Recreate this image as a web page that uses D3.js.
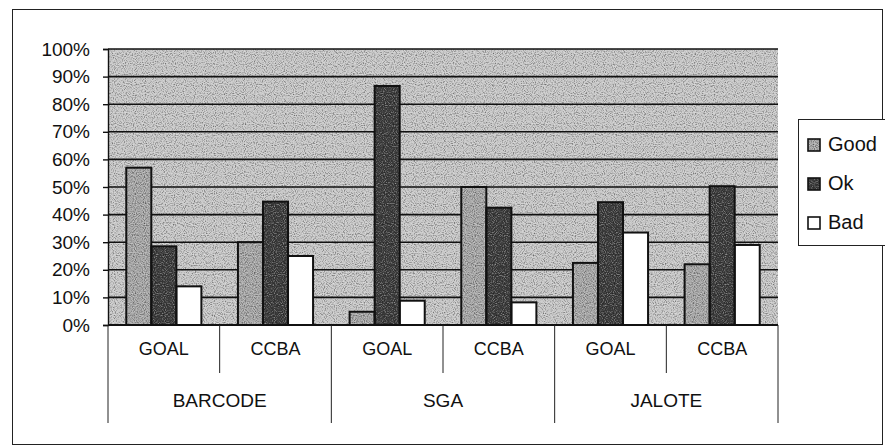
<!DOCTYPE html>
<html>
<head>
<meta charset="utf-8">
<script src="https://cdn.jsdelivr.net/npm/d3@7"></script>
<style>
  html, body { margin: 0; padding: 0; background: #fff; }
  svg { display: block; }
  text { font-family: "Liberation Sans", Arial, sans-serif; fill: #111; }
</style>
</head>
<body>
<svg id="chart" width="885" height="447"></svg>
<script>
// Survey outcome shares per tool and method
const groups = ["BARCODE", "SGA", "JALOTE"];
const methods = ["GOAL", "CCBA"];
const series = ["Good", "Ok", "Bad"];
const good = [57, 30, 4.8, 50, 22.5, 22];
const ok = [28.5, 44.7, 86.6, 42.5, 44.5, 50.3];
const bad = [14, 25, 8.8, 8.2, 33.5, 29];
const tickValues = [0, 10, 20, 30, 40, 50, 60, 70, 80, 90, 100];
const tickLabels = ["0%", "10%", "20%", "30%", "40%", "50%", "60%", "70%", "80%", "90%", "100%"];

const seriesValues = { Good: good, Ok: ok, Bad: bad };
const fills = { Good: "#a6a6a6", Ok: "#3c3c3c", Bad: "#ffffff" };

const slots = [];
groups.forEach(g => methods.forEach(m => slots.push(g + "|" + m)));

const svg = d3.select("#chart");
const plot = { left: 108, right: 778, top: 49, bottom: 325 };

// speckle filter: equal amounts of dark and light dots, so the mean tone stays put
const defs = svg.append("defs");
const f = defs.append("filter").attr("id", "grain")
  .attr("x", 0).attr("y", 0).attr("width", 1).attr("height", 1)
  .attr("color-interpolation-filters", "sRGB");
f.append("feTurbulence").attr("type", "fractalNoise").attr("baseFrequency", 0.9)
  .attr("numOctaves", 1).attr("seed", 7).attr("result", "noise");
f.append("feColorMatrix").attr("in", "noise").attr("type", "matrix")
  .attr("values", "0 0 0 0 0  0 0 0 0 0  0 0 0 0 0  1.4 0 0 0 -0.7").attr("result", "dark");
f.append("feColorMatrix").attr("in", "noise").attr("type", "matrix")
  .attr("values", "0 0 0 0 1  0 0 0 0 1  0 0 0 0 1  -1.4 0 0 0 0.7").attr("result", "light");
const mg = f.append("feMerge").attr("result", "merged");
mg.append("feMergeNode").attr("in", "SourceGraphic");
mg.append("feMergeNode").attr("in", "dark");
mg.append("feMergeNode").attr("in", "light");
f.append("feComposite").attr("in", "merged").attr("in2", "SourceGraphic").attr("operator", "in");

// outer chart frame
svg.append("rect").attr("x", 12.5).attr("y", 9.5).attr("width", 870).attr("height", 435)
  .attr("fill", "#fff").attr("stroke", "#222").attr("stroke-width", 1);

const y = d3.scaleLinear().domain([0, 100]).range([plot.bottom, plot.top]);
const x0 = d3.scaleBand().domain(slots).range([plot.left, plot.right]).padding(0);
const x1 = d3.scaleBand().domain(series).range([0, x0.bandwidth()]).paddingInner(0).paddingOuter(0.73);
const xg = d3.scaleBand().domain(groups).range([plot.left, plot.right]).padding(0);

// plot background
svg.append("rect").attr("x", plot.left).attr("y", plot.top)
  .attr("width", plot.right - plot.left).attr("height", plot.bottom - plot.top)
  .attr("fill", "#c6c6c6").attr("filter", "url(#grain)");

// gridlines
svg.append("g").selectAll("line").data(tickValues.filter(v => v > 0)).join("line")
  .attr("x1", plot.left).attr("x2", plot.right)
  .attr("y1", d => y(d)).attr("y2", d => y(d))
  .attr("stroke", "#111").attr("stroke-width", 1.6);

// y axis
const yAxis = d3.axisLeft(y).tickValues(tickValues)
  .tickFormat((d, i) => tickLabels[i]).tickSize(5).tickPadding(13);
const ya = svg.append("g").attr("transform", `translate(${plot.left},0)`).call(yAxis);
ya.select(".domain").attr("stroke", "#111").attr("stroke-width", 1.4);
ya.selectAll(".tick line").attr("stroke", "#111").attr("stroke-width", 1.4);
ya.selectAll(".tick text").attr("font-size", 19).attr("fill", "#111")
  .attr("font-family", "'Liberation Sans', Arial, sans-serif");

// bars
const barData = [];
slots.forEach((s, i) => series.forEach(k => barData.push({ slot: s, key: k, value: seriesValues[k][i] })));
const bars = svg.append("g");
bars.selectAll("rect.fill").data(barData).join("rect").attr("class", "fill")
  .attr("x", d => x0(d.slot) + x1(d.key))
  .attr("y", d => y(d.value))
  .attr("width", x1.bandwidth())
  .attr("height", d => y(0) - y(d.value))
  .attr("fill", d => fills[d.key])
  .attr("filter", d => d.key === "Bad" ? null : "url(#grain)");
bars.selectAll("rect.edge").data(barData).join("rect").attr("class", "edge")
  .attr("x", d => x0(d.slot) + x1(d.key))
  .attr("y", d => y(d.value))
  .attr("width", x1.bandwidth())
  .attr("height", d => y(0) - y(d.value))
  .attr("fill", "none")
  .attr("stroke", "#111").attr("stroke-width", 2);

// category table below the plot
const tbl = svg.append("g");
tbl.append("line").attr("x1", plot.left).attr("x2", plot.right)
  .attr("y1", plot.bottom).attr("y2", plot.bottom).attr("stroke", "#111").attr("stroke-width", 2);
// dividers between methods (short) and between tools (full height)
slots.forEach((s, i) => {
  if (i % 2 === 1) {
    tbl.append("line").attr("x1", x0(s)).attr("x2", x0(s))
      .attr("y1", plot.bottom).attr("y2", 373).attr("stroke", "#222").attr("stroke-width", 1);
  }
});
groups.forEach(g => {
  tbl.append("line").attr("x1", xg(g)).attr("x2", xg(g))
    .attr("y1", plot.bottom).attr("y2", 423).attr("stroke", "#222").attr("stroke-width", 1);
});
tbl.append("line").attr("x1", plot.right).attr("x2", plot.right)
  .attr("y1", plot.bottom).attr("y2", 423).attr("stroke", "#222").attr("stroke-width", 1);

tbl.selectAll("text.m").data(slots).join("text").attr("class", "m")
  .attr("x", d => x0(d) + x0.bandwidth() / 2).attr("y", 349)
  .attr("text-anchor", "middle").attr("dominant-baseline", "central")
  .attr("font-size", 18).text(d => d.split("|")[1]);
tbl.selectAll("text.g").data(groups).join("text").attr("class", "g")
  .attr("x", d => xg(d) + xg.bandwidth() / 2).attr("y", 400)
  .attr("text-anchor", "middle").attr("dominant-baseline", "central")
  .attr("font-size", 19).text(d => d);

// legend
const lg = svg.append("g");
lg.append("rect").attr("x", 798.5).attr("y", 119.5).attr("width", 90).attr("height", 126)
  .attr("fill", "#fff").attr("stroke", "#222").attr("stroke-width", 1);
const ly = d3.scalePoint().domain(series).range([144, 222]);
series.forEach(k => {
  lg.append("rect").attr("x", 808).attr("y", ly(k) - 5).attr("width", 12).attr("height", 12)
    .attr("fill", fills[k]).attr("filter", k === "Bad" ? null : "url(#grain)");
  lg.append("rect").attr("x", 808).attr("y", ly(k) - 5).attr("width", 12).attr("height", 12)
    .attr("fill", "none").attr("stroke", "#111").attr("stroke-width", 1.6);
  lg.append("text").attr("x", 828).attr("y", ly(k)).attr("dominant-baseline", "central")
    .attr("font-size", 20).text(k);
});
</script>
</body>
</html>
